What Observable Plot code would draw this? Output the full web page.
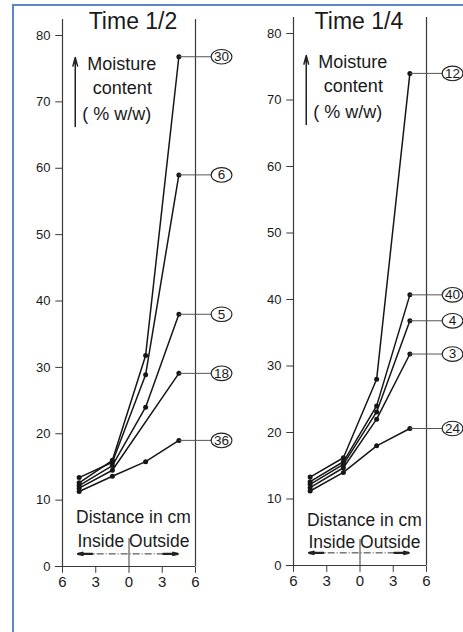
<!DOCTYPE html>
<html>
<head>
<meta charset="utf-8">
<script src="https://cdn.jsdelivr.net/npm/d3@7"></script>
<script src="https://cdn.jsdelivr.net/npm/@observablehq/plot@0.6"></script>
<style>
  body { margin: 0; background: #fff; }
  #wrap { position: relative; width: 463px; height: 632px; overflow: hidden; background: #fff;
          font-family: "Liberation Sans", Arial, sans-serif; }
  #frame { position: absolute; left: 12px; top: 4px; right: -10px; bottom: -10px;
           border-left: 2px solid #5b87c6; border-top: 2px solid #5b87c6; }
  .panel { position: absolute; top: 0; }
</style>
</head>
<body>
<div id="wrap"><div id="frame"></div></div>
<script>
// ---- data ----
const positions = [-4.5, -1.5, 1.5, 4.5];          // distance in cm (negative = inside)
const xTicks = [-6, -3, 0, 3, 6];
const yTicks = [0, 10, 20, 30, 40, 50, 60, 70, 80];

const halfTitle = "Time 1/2";
const halfLabels = ["30", "6", "5", "18", "36"];
const half30 = [12.6, 16.0, 31.8, 76.8];
const half6  = [13.4, 15.7, 28.9, 59.0];
const half5  = [12.2, 15.2, 24.0, 38.0];
const half18 = [11.8, 14.5, null, 29.1];
const half36 = [11.3, 13.6, 15.8, 19.0];

const quarterTitle = "Time 1/4";
const quarterLabels = ["12", "40", "4", "3", "24"];
const quarter12 = [13.3, 16.2, 28.0, 74.0];
const quarter40 = [12.6, 15.6, 24.0, 40.7];
const quarter4  = [12.2, 15.2, 23.1, 36.8];
const quarter3  = [11.7, 14.7, 22.0, 31.8];
const quarter24 = [11.2, 14.0, 18.0, 20.6];

const yLabelLines = ["Moisture", "content", "( % w/w)"];
const xLabelLines = ["Distance in cm", "Inside Outside"];

// ---- layout constants ----
const FONT = '"Liberation Sans", Arial, sans-serif';
const INK = "#161616";
const AXIS = "#3a3a3a";
const moistX = [-0.65, -0.6, -1.1];
const moistY = [75.7, 72.0, 68.2];

const ellipse = {
  draw(ctx, size) {
    const r = Math.sqrt(size / Math.PI), rx = r * 1.42, ry = r, k = 0.5523;
    ctx.moveTo(rx, 0);
    ctx.bezierCurveTo(rx, k * ry, k * rx, ry, 0, ry);
    ctx.bezierCurveTo(-k * rx, ry, -rx, k * ry, -rx, 0);
    ctx.bezierCurveTo(-rx, -k * ry, -k * rx, -ry, 0, -ry);
    ctx.bezierCurveTo(k * rx, -ry, rx, -k * ry, rx, 0);
    ctx.closePath();
  }
};

function stretch(svg, label, f) {
  svg.querySelectorAll(`g[aria-label="${label}"] text`).forEach(t => {
    const len = t.getComputedTextLength();
    t.setAttribute("textLength", len * f);
    t.setAttribute("lengthAdjust", "spacingAndGlyphs");
  });
}

function panel({title, titleX, titleY, labels, series, left, width, marginTop, marginBottom, distY, insideY}) {
  const rows = [];
  series.forEach((vals, k) => vals.forEach((v, i) => {
    if (v != null) rows.push({id: labels[k], x: positions[i], y: v});
  }));
  const ends = series.map((vals, k) => ({id: labels[k], x: positions[positions.length - 1], y: vals[vals.length - 1]}));
  const LAB_X = 8.35, LEAD_END = 7.45;

  const svg = Plot.plot({
    width, height: 632,
    marginLeft: 62, marginRight: width - 62 - 133, marginTop, marginBottom,
    x: {domain: [-6, 6], axis: null},
    y: {domain: [0, 80], axis: null},
    style: {fontFamily: FONT, background: "transparent", overflow: "visible", color: INK},
    marks: [
      // axes frame
      Plot.ruleX([-6, 6], {x: d => d, y1: 0, y2: 82.4, stroke: AXIS, strokeWidth: 1.2}),
      Plot.ruleY([0], {y: d => d, x1: -6.65, x2: 6, stroke: AXIS, strokeWidth: 1.2}),
      Plot.link(yTicks, {x1: -6.65, x2: -6, y1: d => d, y2: d => d, stroke: AXIS, strokeWidth: 1}),
      Plot.text(yTicks, {x: -6, y: d => d, text: d => String(d), dx: -12, textAnchor: "end",
                         fontSize: 13, fill: "#1a1a1a", ariaLabel: "ytick-label"}),
      Plot.link(xTicks, {x1: d => d, x2: d => d, y1: 0, y2: -0.95, stroke: AXIS, strokeWidth: 1}),
      Plot.text(xTicks, {x: d => d, y: 0, dy: 16, text: d => String(Math.abs(d)),
                         fontSize: 15, fill: "#1a1a1a", ariaLabel: "xtick-label"}),
      // inside/outside divider and double arrow
      Plot.ruleX([0], {x: d => d, y1: 0, y2: insideY + 0.4, stroke: AXIS, strokeWidth: 1}),
      Plot.link([0], {x1: -4.0, x2: 3.8, y1: 1.9, y2: 1.9, stroke: "#333", strokeWidth: 1, strokeDasharray: "7,2,1,2"}),
      Plot.arrow([-1, 1], {x1: d => d < 0 ? -3.3 : 3.1, x2: d => d < 0 ? -4.6 : 4.4, y1: 1.9, y2: 1.9,
                           stroke: "#222", strokeWidth: 2.2, headLength: 9, headAngle: 28}),
      // moisture arrow
      Plot.arrow([0], {x1: -4.85, x2: -4.85, y1: 66.3, y2: 76.7, stroke: "#222", strokeWidth: 1.5,
                       headLength: 9, headAngle: 30}),
      // annotations
      Plot.text([title], {x: titleX, y: titleY, text: d => d, fontSize: 23, fill: "#1a1a1a", ariaLabel: "title"}),
      Plot.text(yLabelLines, {x: (d, i) => moistX[i], y: (d, i) => moistY[i], text: d => d,
                              fontSize: 18, fill: "#1a1a1a", ariaLabel: "moisture"}),
      Plot.text(xLabelLines, {x: 0.4, y: (d, i) => i === 0 ? distY : insideY, text: d => d,
                              fontSize: 17.5, fill: "#1a1a1a", ariaLabel: "distance"}),
      // series
      Plot.line(rows, {x: "x", y: "y", z: "id", stroke: INK, strokeWidth: 1.5}),
      Plot.dot(rows, {x: "x", y: "y", r: 2.5, fill: INK}),
      // leaders + circled labels
      Plot.link(ends, {x1: "x", x2: LEAD_END, y1: "y", y2: "y", stroke: "#555", strokeWidth: 1}),
      Plot.dot(ends, {x: LAB_X, y: "y", r: 7.3, symbol: ellipse, fill: "white", stroke: "#222", strokeWidth: 1.1}),
      Plot.text(ends, {x: LAB_X, y: "y", text: "id", fontSize: 13.5, fill: "#1a1a1a", ariaLabel: "circle-label"})
    ]
  });
  svg.classList.add("panel");
  svg.style.left = left + "px";
  document.getElementById("wrap").appendChild(svg);
  stretch(svg, "title", 1.12);
  stretch(svg, "moisture", 1.1);
  stretch(svg, "ytick-label", 1.25);
  return svg;
}

panel({title: halfTitle, titleX: 0.36, titleY: 82.1, labels: halfLabels,
       series: [half30, half6, half5, half18, half36],
       left: 0, width: 231, marginTop: 35, marginBottom: 66, distY: 7.4, insideY: 3.8});
panel({title: quarterTitle, titleX: -0.1, titleY: 81.8, labels: quarterLabels,
       series: [quarter12, quarter40, quarter4, quarter3, quarter24],
       left: 231, width: 232, marginTop: 33, marginBottom: 67, distY: 6.8, insideY: 3.5});
</script>
</body>
</html>
